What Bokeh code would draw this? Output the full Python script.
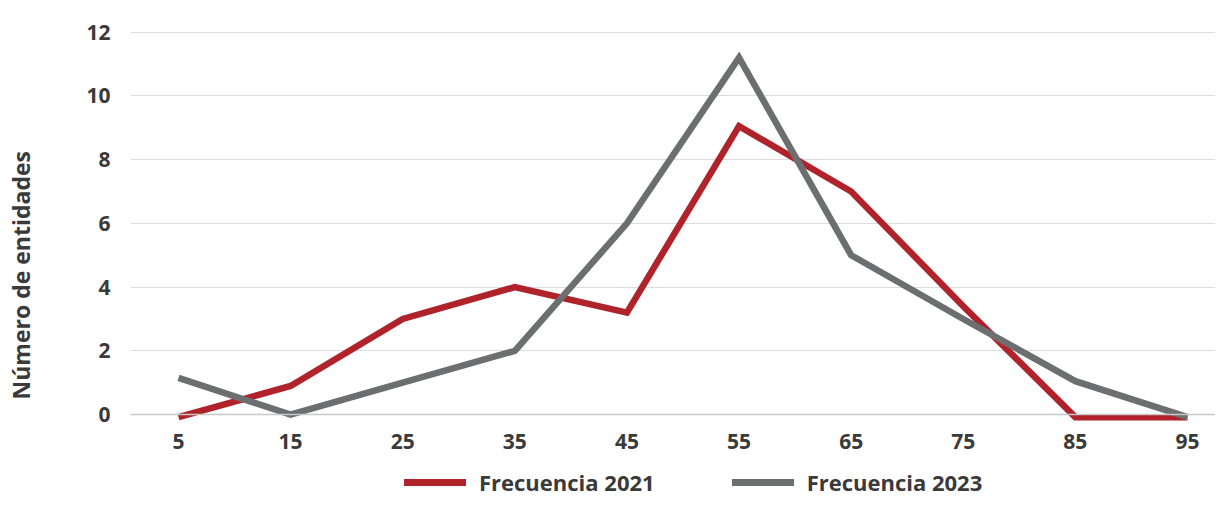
from bokeh.plotting import figure
from bokeh.layouts import column
from bokeh.models import Legend, LegendItem, FixedTicker, Range1d, Span, Title
from bokeh.embed import file_html
from bokeh.resources import INLINE

categories = [5, 15, 25, 35, 45, 55, 65, 75, 85, 95]
freq_2021 = [-0.08, 0.9, 3.0, 4.0, 3.2, 9.05, 7.0, 3.4, -0.08, -0.08]
freq_2023 = [1.15, 0.0, 1.0, 2.0, 6.0, 11.2, 5.0, 3.0, 1.05, -0.08]
y_ticks = [0, 2, 4, 6, 8, 10, 12]
series_names = ["Frecuencia 2021", "Frecuencia 2023"]
colors = ["#B0232A", "#6D6E70"]

FONT = "Open Sans"
TXT = "#3a3a3a"

p = figure(width=1215, height=462, output_backend="svg", toolbar_location=None,
           x_range=Range1d(0.72, 97.5), y_range=Range1d(-0.31, 12.3),
           min_border_left=130, min_border_right=0, min_border_top=22,
           min_border_bottom=38)
p.outline_line_color = None
p.background_fill_color = "white"
p.border_fill_color = "white"

p.xgrid.grid_line_color = None
p.ygrid.grid_line_color = "#dcdcdc"
p.ygrid.grid_line_width = 1.2
p.yaxis.ticker = FixedTicker(ticks=y_ticks)
p.xaxis.ticker = FixedTicker(ticks=categories)

for ax in (p.xaxis[0], p.yaxis[0]):
    ax.axis_line_color = None
    ax.major_tick_line_color = None
    ax.minor_tick_line_color = None
    ax.major_label_text_font = FONT
    ax.major_label_text_font_style = "bold"
    ax.major_label_text_font_size = "21px"
    ax.major_label_text_color = TXT

p.xaxis.major_label_standoff = 3
p.yaxis.major_label_standoff = 14

# thin spacer between the tick labels and the axis title
spacer = Title(text=" ", text_font_size="1px", standoff=38)
p.add_layout(spacer, "left")

ytitle = Title(text="Número de entidades", align="left", vertical_align="top",
               offset=25, standoff=7,
               text_font=FONT, text_font_style="bold", text_font_size="23px",
               text_color=TXT)
p.add_layout(ytitle, "left")

zero = Span(location=0, dimension="width", line_color="#c8c8c8", line_width=1.5)
p.add_layout(zero)

r1 = p.line(categories, freq_2021, line_color=colors[0], line_width=6.5, line_join="miter")
r2 = p.line(categories, freq_2023, line_color=colors[1], line_width=6.5, line_join="miter")

# legend strip below the chart (its lines lie outside this strip's y range)
p2 = figure(width=1215, height=35, output_backend="svg", toolbar_location=None,
            x_range=p.x_range, y_range=Range1d(100, 101),
            min_border_left=0, min_border_right=0, min_border_top=0, min_border_bottom=0)
p2.outline_line_color = None
p2.axis.visible = False
p2.grid.visible = False
l1 = p2.line(categories, freq_2021, line_color=colors[0], line_width=7, line_cap="round")
l2 = p2.line(categories, freq_2023, line_color=colors[1], line_width=7, line_cap="round")

legend = Legend(items=[LegendItem(label=series_names[0], renderers=[l1]),
                       LegendItem(label=series_names[1], renderers=[l2])],
                orientation="horizontal", location=(274, 0))
legend.label_text_font = FONT
legend.label_text_font_style = "bold"
legend.label_text_font_size = "22px"
legend.label_text_color = TXT
legend.glyph_width = 62
legend.label_standoff = 13
legend.spacing = 77
legend.border_line_color = None
legend.background_fill_alpha = 0
legend.margin = 0
legend.padding = 0
p2.add_layout(legend, "center")

layout = column(p, p2, spacing=0)
open("out.html", "w").write(file_html(layout, INLINE))
